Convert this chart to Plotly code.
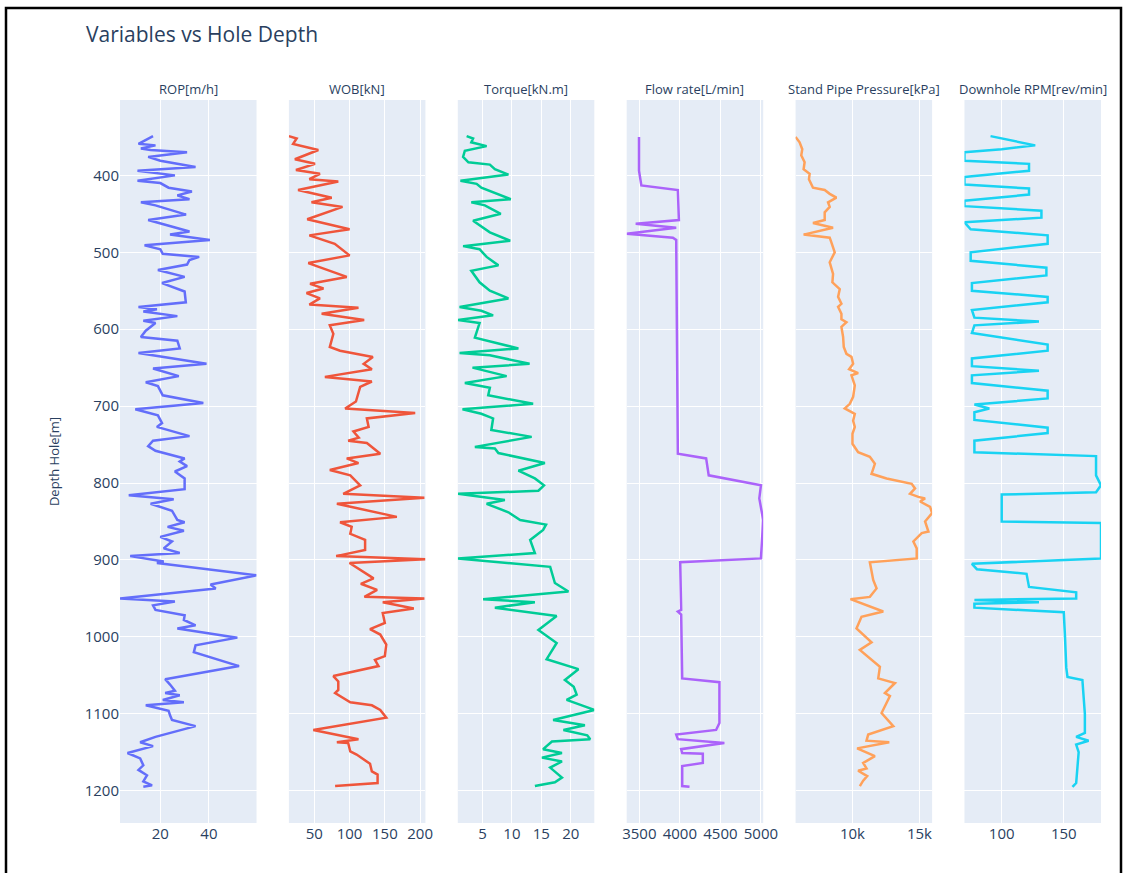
import plotly.graph_objects as go
from plotly.subplots import make_subplots

# ---- drilling log data (depth in m) ----
rop_depth = [349, 354, 359, 361, 365, 367, 370, 376, 381, 389, 394, 400, 407, 410, 416, 421, 426, 431, 435, 439,
             445, 451, 458, 473, 477, 484, 491, 496, 502, 506, 510, 516, 523, 532, 540, 551, 565, 571, 574, 577,
             583, 589, 592, 602, 610, 615, 625, 631, 645, 651, 661, 669, 674, 686, 696, 704, 712, 722, 727, 739,
             745, 752, 758, 768, 772, 778, 785, 794, 808, 816, 821, 827, 836, 848, 851, 857, 862, 870, 876, 885,
             891, 895, 902, 904, 920, 932, 937, 950, 954, 959, 965, 972, 978, 985, 989, 1001, 1011, 1020, 1038, 1055,
             1062, 1070, 1073, 1076, 1082, 1085, 1089, 1096, 1102, 1108, 1116, 1130, 1137, 1142, 1151, 1158, 1167,
             1173, 1180, 1188, 1193, 1195]
rop = [17, 14, 11, 18, 12, 16, 31, 15, 20, 34.5, 10.6, 26, 10.6, 20, 23.4, 33, 27, 32, 12, 18,
       24, 30.6, 15, 32, 24, 40.4, 13.5, 20, 21, 36, 32, 31, 19, 30, 20.7, 30, 30.5, 11, 18.6, 13,
       27, 13, 18, 14, 12, 27, 28, 11, 39, 17, 27.6, 14, 19, 21, 37.7, 9.7, 19, 20.7, 18.6, 32,
       17, 15, 18, 30, 28, 31, 26, 30, 30, 7, 25.5, 16, 24.8, 27, 30, 23, 29.7, 20, 24.8, 21.4,
       28, 7.6, 21.4, 18.6, 59.6, 40.7, 42.8, 3.4, 26, 17, 18, 30, 29.7, 34.5, 27, 51.7, 34.5, 33.8, 52.4, 22,
       24, 26, 22, 28, 21, 29.7, 14, 23.4, 24, 24.8, 34.5, 18, 11.7, 17, 6.5, 11.7, 13,
       11, 14.5, 13, 16.6, 13]

wob_depth = [349, 352, 359, 367, 379, 385, 393, 398, 405, 408, 419, 429, 435, 441, 457, 470, 478, 489, 504, 514,
             532, 541, 547, 553, 560, 568, 572, 580, 588, 595, 606, 623, 628, 636, 645, 652, 662, 668, 675, 694,
             703, 709, 716, 727, 733, 741, 745, 748, 762, 768, 774, 783, 790, 803, 814, 819, 827, 844, 851, 857,
             866, 874, 887, 895, 899, 904, 924, 931, 939, 948, 950, 955, 963, 969, 982, 990, 997, 1010, 1025, 1030,
             1038, 1051, 1058, 1069, 1073, 1085, 1089, 1095, 1105, 1121, 1133, 1137, 1138, 1149, 1153, 1162, 1165,
             1175, 1179, 1190, 1194]
wob = [14, 25, 20, 55.7, 22.5, 51, 24, 58, 43, 84, 27, 74.7, 46, 90, 40, 100, 43, 79, 100, 41.5,
       96, 44, 63, 39, 58, 43, 112.6, 60.4, 120.7, 72, 77, 72, 86.5, 133, 120, 131.6, 65, 131.6, 115, 109,
       93.7, 193, 124.5, 127, 105.5, 113, 98, 124.5, 143.5, 96, 112.6, 72, 101, 115, 91, 206, 82, 167, 86.5, 103,
       101, 122, 122, 81, 207.5, 100, 134, 116, 139, 121, 206, 147, 191, 147, 150, 129, 143.5, 152, 150, 136,
       141, 77, 84, 84, 79.5, 101, 131.6, 143.5, 152, 48.6, 112.6, 82, 98, 101, 110, 124.5, 129,
       131.6, 139.7, 139.7, 79.5]

torque_depth = [349, 352, 357, 362, 368, 376, 383, 386, 392, 399, 407, 411, 416, 431, 435, 439, 450, 459, 474, 485,
                492, 496, 506, 517, 524, 539, 550, 560, 571, 576, 582, 588, 592, 611, 625, 631, 634, 645, 650, 661,
                670, 676, 686, 697, 704, 710, 716, 731, 740, 753, 755, 761, 774, 784, 794, 803, 810, 814, 822, 827,
                838, 848, 854, 861, 874, 891, 898, 909, 930, 941, 951, 955, 962, 973, 991, 1008, 1029, 1042, 1056,
                1065, 1075, 1082, 1095, 1108, 1115, 1121, 1128, 1133, 1136, 1146, 1151, 1157, 1162, 1170, 1183,
                1189, 1194]
torque = [2.3, 3.4, 3.1, 5.7, 2.0, 1.7, 2.6, 6.25, 7.1, 9.4, 1.25, 4.0, 4.8, 9.8, 3.1, 5.4, 8.1, 3.4, 6.25, 9.7,
          1.7, 4.5, 5.7, 7.7, 3.1, 4.5, 6.25, 9.4, 1.1, 4.8, 6.8, 0.85, 4.5, 3.7, 11.1, 1.1, 6.25, 13, 3.3, 9.1,
          2.0, 6.25, 5.97, 13.6, 1.6, 4.8, 6.8, 6.5, 13.35, 3.7, 7.1, 7.7, 15.6, 11.1, 13.9, 15.45, 14.5, 0.85, 8.8, 5.7,
          9.4, 11.4, 15.8, 15.3, 13.1, 13.9, 0.8, 16.5, 17.3, 19.6, 5.1, 13.9, 7.1, 17.6, 14.5, 17.6, 15.9, 21.3, 19,
          20.5, 21, 19.3, 24.0, 17, 22.4, 18.75, 22.8, 23.3, 16.8, 15.3, 18.5, 15.1, 18.5, 16.5, 18.5,
          17.3, 13.9]

flow_depth = [350, 394, 413, 419, 458, 463, 468, 476, 481, 484, 762, 768, 790, 803, 820, 848, 898, 903, 965, 967,
              971, 1054, 1059, 1112, 1121, 1127, 1133, 1138, 1146, 1151, 1152, 1164, 1168, 1194, 1195]
flow = [3496, 3496, 3525, 3975, 3988, 3455, 3955, 3344, 3914, 3955, 3975, 4324, 4356, 5000, 4980, 5028, 5000, 4004, 4016, 3975,
        4016, 4029, 4488, 4488, 4447, 3955, 3975, 4549, 4016, 4029, 4283, 4283, 4029, 4029, 4119]

spp_depth = [350, 357, 366, 374, 383, 392, 398, 405, 416, 419, 424, 429, 435, 441, 448, 458, 462, 468, 477, 481,
             487, 500, 513, 528, 539, 548, 558, 567, 571, 580, 587, 591, 597, 610, 623, 632, 636, 645, 652, 657,
             660, 673, 688, 697, 703, 710, 719, 727, 736, 749, 760, 766, 775, 788, 794, 801, 807, 814, 818, 820,
             824, 831, 839, 850, 863, 865, 876, 885, 898, 903, 926, 937, 948, 951, 967, 974, 989, 1007, 1017, 1039,
             1054, 1060, 1073, 1077, 1099, 1116, 1127, 1135, 1137, 1145, 1155, 1164, 1171, 1174, 1181, 1187, 1194]
spp = [5750, 6050, 6250, 6175, 6425, 6350, 6800, 6750, 7050, 7925, 8300, 8800, 8175, 8300, 7925, 7925, 7050, 8550, 6350, 8300,
       8425, 8675, 8300, 8550, 8500, 9050, 8925, 9175, 8925, 9175, 9175, 9550, 9175, 9300, 9350, 9550, 9925, 10050, 9750, 10425,
       9925, 10175, 10050, 9800, 9425, 10175, 10050, 10175, 10000, 10000, 10425, 11300, 11675, 11425, 12550, 14425, 14675, 14300, 14925, 15425,
       15050, 15800, 15950, 15425, 15675, 15175, 14550, 14800, 14800, 11300, 11550, 11800, 11300, 9850, 12300, 10675, 10300, 11425, 10550, 12050,
       11925, 13175, 12425, 12800, 12175, 13050, 11175, 11050, 12750, 10350, 11675, 10800, 11050, 10425, 11100, 10800, 10550]

rpm_depth = [349, 355, 361, 366, 370, 381, 385, 394, 402, 412, 417, 425, 433, 440, 446, 455, 461, 470, 478, 489,
             500, 511, 520, 530, 540, 550, 558, 565, 575, 585, 590, 595, 605, 620, 628, 638, 648, 654, 660, 670,
             680, 690, 698, 703, 708, 718, 728, 735, 745, 760, 765, 790, 803, 812, 815, 850, 852, 898, 905, 912,
             918, 935, 942, 950, 952, 955, 957, 962, 968, 1000, 1040, 1052, 1056, 1100, 1125, 1130, 1135, 1140,
             1150, 1170, 1190, 1195]
rpm = [91, 110, 127, 100, 70, 70, 122, 122, 70, 70, 122, 122, 70, 70, 132, 132, 70, 75, 137, 137,
       75, 75, 136, 136, 76, 76, 137, 137, 76, 78, 130, 78, 76, 137, 137, 76, 76, 130, 76, 76,
       137, 137, 78, 90, 78, 78, 137, 137, 78, 78, 176, 176, 180, 176, 100, 100, 180, 180, 76, 80,
       120, 122, 160, 160, 78, 130, 78, 78, 150, 151, 152, 153, 165, 167, 167, 160, 170, 160,
       162, 161, 160, 157]

titles = ["ROP[m/h]", "WOB[kN]", "Torque[kN.m]", "Flow rate[L/min]",
          "Stand Pipe Pressure[kPa]", "Downhole RPM[rev/min]"]
series = [(rop, rop_depth), (wob, wob_depth), (torque, torque_depth),
          (flow, flow_depth), (spp, spp_depth), (rpm, rpm_depth)]
colors = ["#636efa", "#EF553B", "#00cc96", "#ab63fa", "#FFA15A", "#19d3f3"]

fig = make_subplots(rows=1, cols=6, shared_yaxes=True, horizontal_spacing=0.033,
                    subplot_titles=titles)

for i, ((vals, depth), name, col) in enumerate(zip(series, titles, colors), start=1):
    fig.add_trace(go.Scatter(x=vals, y=depth, mode="lines", name=name,
                             line=dict(color=col, width=2.5)), row=1, col=i)

for ann in fig.layout.annotations:
    ann.font = dict(size=13, color="#2a3f5f")

fig.update_xaxes(tickfont=dict(size=15), showgrid=True)
fig.update_yaxes(tickfont=dict(size=15), autorange="reversed")
fig.update_yaxes(title=dict(text="Depth Hole[m]", font=dict(size=13), standoff=22), row=1, col=1)

W, H = 1135, 873
L, R, T, B = 120, 34, 100, 50
pw, ph = W - L - R, H - T - B


def px(xp):
    return (xp - L) / pw


def py(yp):
    return (H - B - yp) / ph


fig.update_layout(
    width=W, height=H,
    template="plotly",
    showlegend=False,
    margin=dict(l=L, r=R, t=T, b=B),
    paper_bgcolor="white",
    title=dict(text="Variables vs Hole Depth", x=86 / W, xanchor="left",
               y=1 - 35 / H, yanchor="middle", font=dict(size=21, color="#2a3f5f")),
    shapes=[dict(type="rect", xref="paper", yref="paper",
                 x0=px(6), x1=px(1121), y0=py(890), y1=py(8),
                 line=dict(color="black", width=2.5), fillcolor="rgba(0,0,0,0)", layer="above")],
)

fig.write_html("out.html")
